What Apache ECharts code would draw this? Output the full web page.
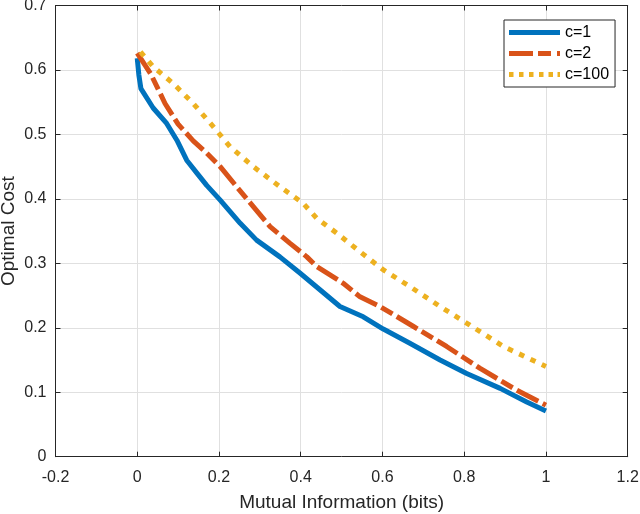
<!DOCTYPE html>
<html><head><meta charset="utf-8">
<script src="https://cdn.jsdelivr.net/npm/echarts@6/dist/echarts.min.js"></script>
<style>html,body{margin:0;padding:0;background:#fff}#c{width:640px;height:514px}</style>
</head><body><div id="c"></div>
<script>
const seriesNames = ['c=1', 'c=2', 'c=100'];
const xTicks = [-0.2, 0, 0.2, 0.4, 0.6, 0.8, 1, 1.2];
const yTicks = [0, 0.1, 0.2, 0.3, 0.4, 0.5, 0.6, 0.7];
const c1 = [[0,0.618],[0.004,0.592],[0.009,0.571],[0.039,0.541],[0.072,0.517],[0.097,0.491],[0.121,0.460],[0.146,0.440],[0.170,0.421],[0.203,0.398],[0.252,0.362],[0.292,0.336],[0.349,0.310],[0.398,0.285],[0.447,0.259],[0.496,0.233],[0.553,0.217],[0.602,0.198],[0.667,0.176],[0.741,0.150],[0.806,0.129],[0.888,0.106],[0.953,0.085],[1.0,0.071]];
const c2 = [[0,0.626],[0.033,0.594],[0.068,0.548],[0.100,0.516],[0.137,0.490],[0.170,0.471],[0.203,0.450],[0.243,0.419],[0.284,0.388],[0.325,0.357],[0.374,0.331],[0.415,0.310],[0.439,0.295],[0.504,0.269],[0.545,0.248],[0.594,0.233],[0.676,0.202],[0.757,0.171],[0.839,0.137],[0.929,0.103],[1.0,0.080]];
const c100 = [[0.008,0.628],[0.039,0.605],[0.088,0.579],[0.137,0.548],[0.186,0.512],[0.227,0.481],[0.284,0.450],[0.349,0.419],[0.406,0.393],[0.439,0.370],[0.488,0.347],[0.545,0.318],[0.602,0.290],[0.667,0.264],[0.741,0.233],[0.814,0.204],[0.896,0.171],[1.0,0.140]];

const FONT = 'Liberation Sans';
const AX = '#262626';
const COLORS = ['#0072BD', '#D95319', '#EDB120'];
const ICONS = [
  'path://M0,0H51V5H0Z',
  'path://M0,0H24V5H0ZM29,0H42V5H29ZM48,0H51V5H48Z',
  'path://M0,0H4.5V5H0ZM10,0H14.5V5H10ZM20,0H24.5V5H20ZM30,0H34.5V5H30ZM39.5,0H44V5H39.5ZM48.5,0H51V5H48.5Z'
];
function fmt(v){ return String(Math.round(v*10)/10); }
const chart = echarts.init(document.getElementById('c'), null, {renderer:'canvas'});
const baseX = {type:'value', min:xTicks[0], max:xTicks[xTicks.length-1], interval:0.2};
const baseY = {type:'value', min:yTicks[0], max:yTicks[yTicks.length-1], interval:0.1};
chart.setOption({
  animation:false,
  backgroundColor:'#fff',
  grid:{left:55.5, right:12.3, top:5.5, bottom:57.3, containLabel:false, outerBoundsMode:'none'},
  legend:{
    data:seriesNames.map((n,i)=>({name:n, icon:ICONS[i]})),
    orient:'vertical', left:504, top:20,
    backgroundColor:'#fff', borderColor:AX, borderWidth:1, borderRadius:0,
    padding:[4.5,6,4.5,5], itemGap:5, itemWidth:51, itemHeight:5,
    textStyle:{fontFamily:FONT, fontSize:16, lineHeight:16, color:'#000'}
  },
  xAxis:[
    Object.assign({}, baseX, {position:'bottom',
      name:'Mutual Information (bits)', nameLocation:'middle', nameGap:37, nameMoveOverlap:false,
      nameTextStyle:{fontFamily:FONT, fontSize:19, color:'#262626'},
      axisLine:{onZero:false, lineStyle:{color:AX, width:1}},
      axisTick:{inside:true, length:5, lineStyle:{color:AX}},
      axisLabel:{fontFamily:FONT, fontSize:16, color:'#262626', margin:13, formatter:fmt},
      splitLine:{show:true, lineStyle:{color:'#e0e0e0', width:1}}}),
    Object.assign({}, baseX, {position:'top',
      axisLine:{onZero:false, lineStyle:{color:AX, width:1}},
      axisTick:{inside:true, length:5, lineStyle:{color:AX}},
      axisLabel:{show:false}, splitLine:{show:false}})
  ],
  yAxis:[
    Object.assign({}, baseY, {position:'left',
      name:'Optimal Cost', nameLocation:'middle', nameGap:37, nameMoveOverlap:false,
      nameTextStyle:{fontFamily:FONT, fontSize:19, color:'#262626'},
      axisLine:{onZero:false, lineStyle:{color:AX, width:1}},
      axisTick:{inside:true, length:5, lineStyle:{color:AX}},
      axisLabel:{fontFamily:FONT, fontSize:16, color:'#262626', margin:9, formatter:fmt},
      splitLine:{show:true, lineStyle:{color:'#e0e0e0', width:1}}}),
    Object.assign({}, baseY, {position:'right',
      axisLine:{onZero:false, lineStyle:{color:AX, width:1}},
      axisTick:{inside:true, length:5, lineStyle:{color:AX}},
      axisLabel:{show:false}, splitLine:{show:false}})
  ],
  series:[
    {name:seriesNames[0], type:'line', data:c1, symbol:'none', color:COLORS[0],
     lineStyle:{width:5, color:COLORS[0], cap:'butt', join:'round'}},
    {name:seriesNames[1], type:'line', data:c2, symbol:'none', color:COLORS[1],
     lineStyle:{width:5, color:COLORS[1], type:[24,5,13,5], cap:'butt'}},
    {name:seriesNames[2], type:'line', data:c100, symbol:'none', color:COLORS[2],
     lineStyle:{width:5, color:COLORS[2], type:[5.5,7], cap:'butt'}}
  ]
});
</script></body></html>
